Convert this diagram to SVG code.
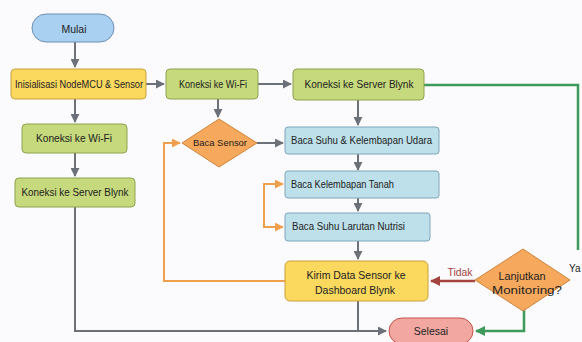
<svg xmlns="http://www.w3.org/2000/svg" width="582" height="342" viewBox="0 0 582 342">
<style>
text{font-family:"Liberation Sans",Arial,sans-serif;font-size:10.5px;fill:#222;text-anchor:middle}
.y{fill:#fbd85e;stroke:#c9a13c;stroke-width:1}
.g{fill:#c6d97c;stroke:#8fa24c;stroke-width:1}
.b{fill:#bde0ea;stroke:#7fa6b8;stroke-width:1}
.o{fill:#f6a85c;stroke:#d0843a;stroke-width:1}
.c{fill:none;stroke:#6c7079;stroke-width:2}
.co{fill:none;stroke:#f0a04c;stroke-width:2}
.cg{fill:none;stroke:#3d9a5a;stroke-width:2.5}
.cr{fill:none;stroke:#a3443f;stroke-width:2.5}
</style>
<defs>
<marker id="ag" viewBox="0 0 10 10" refX="9" refY="5" markerWidth="4.5" markerHeight="4.5" orient="auto"><path d="M0,0L10,5L0,10z" fill="#6c7079"/></marker>
<marker id="ao" viewBox="0 0 10 10" refX="9" refY="5" markerWidth="4.5" markerHeight="4.5" orient="auto"><path d="M0,0L10,5L0,10z" fill="#f0a04c"/></marker>
<marker id="agr" viewBox="0 0 10 10" refX="9" refY="5" markerWidth="4" markerHeight="4" orient="auto"><path d="M0,0L10,5L0,10z" fill="#3d9a5a"/></marker>
<marker id="ar" viewBox="0 0 10 10" refX="9" refY="5" markerWidth="4" markerHeight="4" orient="auto"><path d="M0,0L10,5L0,10z" fill="#a3443f"/></marker>
</defs>
<rect width="582" height="342" fill="#fbfbfd"/>
<g id="connectors">
<path class="c" d="M75,42V67" marker-end="url(#ag)"/>
<path class="c" d="M146,84H164" marker-end="url(#ag)"/>
<path class="c" d="M258,84H291" marker-end="url(#ag)"/>
<path class="c" d="M75,99V122" marker-end="url(#ag)"/>
<path class="c" d="M75,153V176" marker-end="url(#ag)"/>
<path class="c" d="M218,99V117" marker-end="url(#ag)"/>
<path class="c" d="M358,100V125" marker-end="url(#ag)"/>
<path class="c" d="M257,143H283" marker-end="url(#ag)"/>
<path class="c" d="M358,154V170" marker-end="url(#ag)"/>
<path class="c" d="M358,198V211" marker-end="url(#ag)"/>
<path class="c" d="M358,241V259" marker-end="url(#ag)"/>
<path class="c" d="M75,207V331H386" marker-end="url(#ag)"/>
<path class="c" d="M358,301V331"/>
<path class="co" d="M285,281H164V143H180" marker-end="url(#ao)"/>
<path class="co" d="M283,184H264V227H283" marker-end="url(#ao)"/>
<path class="co" d="M264,184H283" marker-end="url(#ao)"/>
<path class="cg" d="M424,85H578V250"/>
<path class="cg" d="M524,310V331H476" marker-end="url(#agr)"/>
<path class="cr" d="M475,281H431" marker-end="url(#ar)"/>
<text x="460" y="276" style="fill:#a3443f" textLength="25" lengthAdjust="spacingAndGlyphs">Tidak</text>
<text x="569" y="272" style="text-anchor:start;font-size:10px">Ya</text>
</g>
<g id="mulai"><rect x="32" y="14" width="82" height="28" rx="14" fill="#a9d0f1" stroke="#6f8fb4"/><text x="74" y="33">Mulai</text></g>
<g id="init"><rect class="y" x="11" y="69" width="135" height="30" rx="4"/><text x="79" y="88" textLength="128" lengthAdjust="spacingAndGlyphs">Inisialisasi NodeMCU &amp; Sensor</text></g>
<g id="wifi1"><rect class="g" x="166" y="69" width="92" height="30" rx="4"/><text x="213" y="88" textLength="68" lengthAdjust="spacingAndGlyphs">Koneksi ke Wi-Fi</text></g>
<g id="blynk1"><rect class="g" x="293" y="69" width="131" height="31" rx="4"/><text x="359" y="88" textLength="109" lengthAdjust="spacingAndGlyphs">Koneksi ke Server Blynk</text></g>
<g id="wifi2"><rect class="g" x="22" y="124" width="105" height="29" rx="4"/><text x="74" y="142" textLength="76" lengthAdjust="spacingAndGlyphs">Koneksi ke Wi-Fi</text></g>
<g id="blynk2"><rect class="g" x="15" y="178" width="120" height="29" rx="4"/><text x="75" y="196" textLength="107" lengthAdjust="spacingAndGlyphs">Koneksi ke Server Blynk</text></g>
<g id="bacasensor"><path class="o" d="M219,119L257,143L219,167L182,143Z"/><text x="220" y="146" style="font-size:9px" textLength="54" lengthAdjust="spacingAndGlyphs">Baca Sensor</text></g>
<g id="udara"><rect class="b" x="285" y="127" width="154" height="27" rx="3"/><text x="291" y="144" style="text-anchor:start" textLength="141" lengthAdjust="spacingAndGlyphs">Baca Suhu &amp; Kelembapan Udara</text></g>
<g id="tanah"><rect class="b" x="285" y="171" width="154" height="27" rx="3"/><text x="291" y="188" style="text-anchor:start" textLength="103" lengthAdjust="spacingAndGlyphs">Baca Kelembapan Tanah</text></g>
<g id="nutrisi"><rect class="b" x="285" y="213" width="145" height="28" rx="3"/><text x="292" y="230" style="text-anchor:start" textLength="113" lengthAdjust="spacingAndGlyphs">Baca Suhu Larutan Nutrisi</text></g>
<g id="kirim"><rect class="y" x="285" y="261" width="143" height="40" rx="5"/><text x="356" y="279" textLength="99" lengthAdjust="spacingAndGlyphs">Kirim Data Sensor ke</text><text x="355" y="294" textLength="80" lengthAdjust="spacingAndGlyphs">Dashboard Blynk</text></g>
<g id="lanjut"><path class="o" d="M523,249L570,280L523,311L475,280Z"/><text x="522" y="280" textLength="47" lengthAdjust="spacingAndGlyphs">Lanjutkan</text><text x="527" y="294" style="font-size:10px" textLength="70" lengthAdjust="spacingAndGlyphs">Monitoring?</text></g>
<g id="selesai"><rect x="389" y="318" width="84" height="26" rx="13" fill="#f2a7a0" stroke="#c4524b"/><text x="431" y="335">Selesai</text></g>
</svg>
